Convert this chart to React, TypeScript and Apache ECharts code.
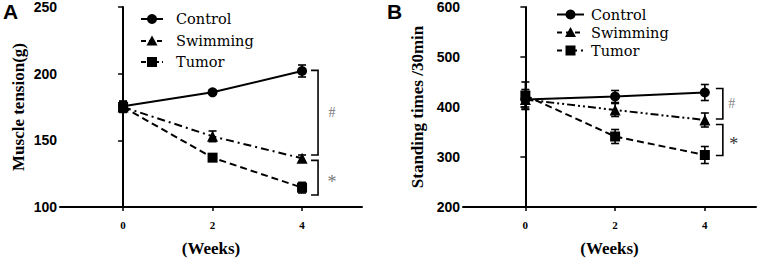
import React, { useEffect, useRef } from "react";
import * as echarts from "echarts";

// ---------- data ----------
const weeks = [0, 2, 4];
const seriesNames = ["Control", "Swimming", "Tumor"];

// Panel A: Muscle tension (g)
const controlA = [175.5, 186, 202];
const controlAErr = [4, 1.5, 4.5];
const swimA = [175, 153, 136.5];
const swimAErr = [4, 4, 2.5];
const tumorA = [175, 137, 114.5];
const tumorAErr = [4, 2.5, 4];

// Panel B: Standing times /30min
const controlB = [415, 421, 429];
const controlBErr = [20, 12, 16];
const swimB = [415, 394, 374];
const swimBErr = [15, 13, 14];
const tumorB = [423, 341, 304];
const tumorBErr = [27, 14, 17];

const xTicks = [0, 2, 4];
const yTicksA = [100, 150, 200, 250];
const yTicksB = [200, 300, 400, 500, 600];

// significance brackets: [x, top, bottom]
const bracketsA = [
  [4, 202.5, 139],
  [4, 135, 109],
];
const bracketLabelsA = ["#", "*"];
const bracketsB = [
  [4, 437, 376],
  [4, 365, 303],
];
const bracketLabelsB = ["#", "*"];

const SERIF = "Liberation Serif";
const LEGEND_SERIF = "DejaVu Serif";
const SANS = "Liberation Sans";

const symbols = ["circle", "triangle", "rect"];
const dashDot = [8, 4, 2, 4];
const dashDotDot = [8, 3, 2, 3, 2, 3];
const dashed = [7, 4];

function errData(vals: number[], errs: number[]) {
  return weeks.map((w, i) => [w, vals[i] - errs[i], vals[i] + errs[i]]);
}

function lineSeries(name: string, vals: number[], idx: number, lineType: any, si: number) {
  return {
    type: "line",
    name,
    xAxisIndex: idx,
    yAxisIndex: idx,
    data: weeks.map((w, i) => [w, vals[i]]),
    symbol: symbols[si],
    symbolSize: si === 1 ? 11 : 10,
    showAllSymbol: true,
    lineStyle: { color: "#000", width: 2, type: lineType },
    itemStyle: { color: "#000" },
    z: 3,
  };
}

function errSeries(vals: number[], errs: number[], idx: number) {
  return {
    type: "custom",
    xAxisIndex: idx,
    yAxisIndex: idx,
    data: errData(vals, errs),
    silent: true,
    z: 4,
    renderItem: (params: any, api: any) => {
      const x = api.value(0);
      const lo = api.coord([x, api.value(1)]);
      const hi = api.coord([x, api.value(2)]);
      const cap = 4;
      const st = { stroke: "#000", lineWidth: 1.6 };
      return {
        type: "group",
        children: [
          { type: "line", shape: { x1: lo[0], y1: lo[1], x2: hi[0], y2: hi[1] }, style: st },
          { type: "line", shape: { x1: lo[0] - cap, y1: lo[1], x2: lo[0] + cap, y2: lo[1] }, style: st },
          { type: "line", shape: { x1: hi[0] - cap, y1: hi[1], x2: hi[0] + cap, y2: hi[1] }, style: st },
        ],
      };
    },
  };
}

function bracketSeries(data: number[][], labels: string[], idx: number, offset: number, labelColors: string[], labelDx: number[]) {
  return {
    type: "custom",
    xAxisIndex: idx,
    yAxisIndex: idx,
    data,
    silent: true,
    z: 5,
    renderItem: (params: any, api: any) => {
      const x = api.value(0);
      const top = api.coord([x, api.value(1)]);
      const bot = api.coord([x, api.value(2)]);
      const bx = top[0] + offset;
      const lab = labels[params.dataIndex];
      const isStar = lab === "*";
      return {
        type: "group",
        children: [
          {
            type: "polyline",
            shape: { points: [[bx - 7, top[1]], [bx, top[1]], [bx, bot[1]], [bx - 7, bot[1]]] },
            style: { stroke: "#000", lineWidth: 1.6, fill: "none" },
          },
          {
            type: "text",
            x: bx + labelDx[params.dataIndex],
            y: (top[1] + bot[1]) / 2 + (isStar ? 4 : 0),
            style: {
              text: lab,
              fill: labelColors[params.dataIndex],
              fontFamily: SERIF,
              fontSize: isStar ? 18 : 14,
              align: "center",
              verticalAlign: "middle",
            },
          },
        ],
      };
    },
  };
}

function xAxis(idx: number, min: number, max: number) {
  return {
    type: "value",
    gridIndex: idx,
    min,
    max,
    name: "(Weeks)",
    nameLocation: "middle",
    nameGap: 33,
    nameTextStyle: { fontFamily: SERIF, fontWeight: "bold", fontSize: 17, color: "#000" },
    axisLine: { show: true, onZero: false, lineStyle: { color: "#000", width: 2 } },
    axisTick: { show: true, customValues: xTicks, length: 4, lineStyle: { color: "#000", width: 1.5 } },
    axisLabel: { customValues: xTicks, fontFamily: SERIF, fontWeight: "bold", fontSize: 11, color: "#000", margin: 12 },
    splitLine: { show: false },
  };
}

function yAxis(idx: number, min: number, max: number, interval: number, name: string, gap: number) {
  return {
    type: "value",
    gridIndex: idx,
    min,
    max,
    interval,
    name,
    nameLocation: "middle",
    nameGap: gap,
    nameTextStyle: { fontFamily: SERIF, fontWeight: "bold", fontSize: 17, color: "#000" },
    axisLine: { show: true, lineStyle: { color: "#000", width: 2 } },
    axisTick: { show: true, length: 5, lineStyle: { color: "#000", width: 1.5 } },
    axisLabel: { fontFamily: SANS, fontWeight: "bold", fontSize: 14, color: "#000", margin: 3 },
    splitLine: { show: false },
  };
}

// legend drawn by a custom series (no coordinate system), one row per series name
function legendSeries(x0: number, lineW: number, textX: number, rowsY: number[], lineTypes: any[], fontSize: number) {
  return {
    type: "custom",
    coordinateSystem: "none",
    silent: true,
    z: 6,
    data: seriesNames.map((_, i) => [i]),
    renderItem: (params: any) => {
      const i = params.dataIndex;
      const y = rowsY[i];
      const cx = x0 + lineW / 2;
      let marker: any;
      if (i === 0) {
        marker = { type: "circle", shape: { cx, cy: y, r: 5 }, style: { fill: "#000" } };
      } else if (i === 1) {
        marker = {
          type: "polygon",
          shape: { points: [[cx, y - 5.5], [cx + 5.5, y + 4.5], [cx - 5.5, y + 4.5]] },
          style: { fill: "#000" },
        };
      } else {
        marker = { type: "rect", shape: { x: cx - 5, y: y - 5, width: 10, height: 10 }, style: { fill: "#000" } };
      }
      return {
        type: "group",
        children: [
          {
            type: "line",
            shape: { x1: x0, y1: y, x2: x0 + lineW, y2: y },
            style: { stroke: "#000", lineWidth: 2, lineDash: lineTypes[i] === "solid" ? null : lineTypes[i] },
          },
          marker,
          {
            type: "text",
            x: textX,
            y,
            style: {
              text: seriesNames[i],
              fontFamily: LEGEND_SERIF,
              fontSize,
              fill: "#000",
              align: "left",
              verticalAlign: "middle",
            },
          },
        ],
      };
    },
  };
}

export default function App() {
  const ref = useRef<HTMLDivElement>(null);

  useEffect(() => {
    document.body.style.margin = "0";
    if (!ref.current) return;
    const chart = echarts.init(ref.current, undefined, { renderer: "svg" });

    const option: any = {
      animation: false,
      backgroundColor: "#fff",
      textStyle: { fontFamily: SERIF },
      grid: [
        { left: 60, top: 7, width: 302, height: 200, containLabel: false, outerBoundsMode: "none" },
        { left: 463, top: 7, width: 293, height: 200, containLabel: false, outerBoundsMode: "none" },
      ],
      xAxis: [xAxis(0, -1.41, 5.34), xAxis(1, -1.39, 5.14)],
      yAxis: [
        yAxis(0, yTicksA[0], yTicksA[yTicksA.length - 1], 50, "Muscle tension(g)", 33),
        yAxis(1, yTicksB[0], yTicksB[yTicksB.length - 1], 100, "Standing times /30min", 37),
      ],
      graphic: [
        { type: "text", left: 3, top: 1, style: { text: "A", fontFamily: SANS, fontWeight: "bold", fontSize: 21, fill: "#000" } },
        { type: "text", left: 387, top: 1, style: { text: "B", fontFamily: SANS, fontWeight: "bold", fontSize: 21, fill: "#000" } },
      ],
      series: [
        lineSeries("Control", controlA, 0, "solid", 0),
        lineSeries("Swimming", swimA, 0, dashDot, 1),
        lineSeries("Tumor", tumorA, 0, dashed, 2),
        errSeries(controlA, controlAErr, 0),
        errSeries(swimA, swimAErr, 0),
        errSeries(tumorA, tumorAErr, 0),
        bracketSeries(bracketsA, bracketLabelsA, 0, 16, ["#777", "#777"], [14, 14]),
        lineSeries("Control", controlB, 1, "solid", 0),
        lineSeries("Swimming", swimB, 1, dashDotDot, 1),
        lineSeries("Tumor", tumorB, 1, dashed, 2),
        errSeries(controlB, controlBErr, 1),
        errSeries(swimB, swimBErr, 1),
        errSeries(tumorB, tumorBErr, 1),
        bracketSeries(bracketsB, bracketLabelsB, 1, 18, ["#888", "#333"], [9, 11]),
        legendSeries(141, 22, 176, [19, 41, 62], ["solid", [5, 3], [5, 3, 2, 3]], 14.5),
        legendSeries(557, 27, 591, [14.5, 32.5, 50.5], ["solid", [5, 4], [5, 4, 2, 4]], 14.5),
      ],
    };

    chart.setOption(option);
    return () => chart.dispose();
  }, []);

  return <div ref={ref} style={{ width: 768, height: 261 }} />;
}
